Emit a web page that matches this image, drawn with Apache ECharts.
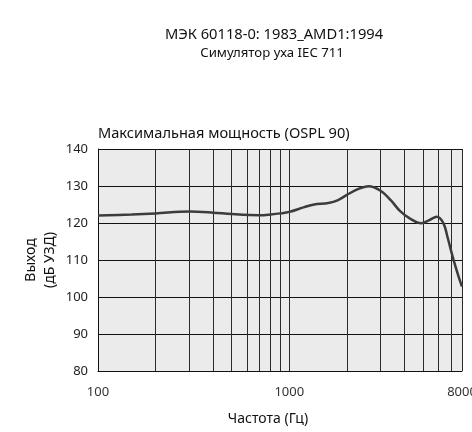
<!DOCTYPE html>
<html>
<head>
<meta charset="utf-8">
<script src="https://cdn.jsdelivr.net/npm/echarts@6/dist/echarts.min.js"></script>
<style>
  html, body { margin: 0; padding: 0; background: #fff; }
  #chart { width: 472px; height: 432px; }
</style>
</head>
<body>
<div id="chart"></div>
<script>
// частота, Гц
const freqs = [100, 150, 200, 300, 400, 500, 700, 800, 900, 1000, 1200, 1350, 1600, 1800, 2000,
  2300, 2600, 3000, 3400, 3800, 4300, 4900, 5400, 5900, 6400, 6750, 7200, 7650, 8000];
// выход, дБ УЗД
const ospl90 = [122.0, 122.3, 122.6, 123.1, 122.8, 122.4, 122.1, 122.3, 122.6, 123.0, 124.3, 125.0, 125.4, 126.2, 127.6,
  129.2, 129.9, 128.7, 126.1, 123.2, 121.1, 119.9, 120.8, 121.7, 119.9, 115.8, 110.3, 105.8, 102.8];
// вертикальная сетка
const gridFreqs = [200, 300, 400, 500, 600, 700, 800, 900, 1000, 2000, 3000, 4000, 5000, 6000, 7000, 8000];

const font = "'Noto Sans', sans-serif";
const chart = echarts.init(document.getElementById("chart"));

const option = {
  animation: false,
  textStyle: { fontFamily: font },
  title: [
    {
      text: "МЭК 60118-0: 1983_AMD1:1994",
      left: 274, top: 27, textAlign: "center", padding: 0,
      textStyle: { fontSize: 14.7, fontWeight: "normal", color: "#111", fontFamily: font }
    },
    {
      text: "Симулятор уха IEC 711",
      left: 272, top: 47, textAlign: "center", padding: 0,
      textStyle: { fontSize: 13.2, fontWeight: "normal", color: "#111", fontFamily: font }
    },
    {
      text: "Максимальная мощность (OSPL 90)",
      left: 98, top: 126, padding: 0,
      textStyle: { fontSize: 14.6, fontWeight: "normal", color: "#111", fontFamily: font }
    }
  ],
  grid: {
    left: 98, right: 10, top: 149, bottom: 61,
    outerBoundsMode: "none",
    containLabel: false,
    show: true, backgroundColor: "#ebebeb", borderWidth: 0
  },
  xAxis: {
    type: "log",
    logBase: 10,
    min: 100,
    max: 8000,
    name: "Частота (Гц)",
    nameLocation: "middle",
    nameGap: 41,
    nameMoveOverlap: false,
    nameTextStyle: { fontSize: 14, color: "#111", fontFamily: font, padding: [0, 24, 0, 0] },
    axisLine: { show: true, lineStyle: { color: "#111", width: 1 } },
    axisTick: { show: false },
    splitLine: { show: false },
    axisLabel: {
      margin: 15, fontSize: 13, color: "#333", fontFamily: font,
      showMaxLabel: true,
      formatter: (v) => String(Math.round(v))
    }
  },
  yAxis: {
    type: "value",
    min: 80,
    max: 140,
    interval: 10,
    name: "Выход\n(дБ УЗД)",
    nameLocation: "middle",
    nameRotate: 90,
    nameGap: 38,
    nameMoveOverlap: false,
    nameTextStyle: { fontSize: 14, lineHeight: 19, color: "#111", fontFamily: font },
    axisLine: { show: true, lineStyle: { color: "#111", width: 1 } },
    axisTick: { show: false },
    splitLine: { show: true, lineStyle: { color: "#111", width: 1 } },
    axisLabel: { margin: 10, fontSize: 13, color: "#222", fontFamily: font }
  },
  series: [
    {
      name: "OSPL 90",
      type: "line",
      data: freqs.map((f, i) => [f, ospl90[i]]),
      smooth: 0.35,
      showSymbol: false,
      lineStyle: { color: "#3c3c3c", width: 2.5 },
      z: 5,
      markLine: {
        silent: true,
        symbol: "none",
        label: { show: false },
        lineStyle: { color: "#2a2a2a", width: 1, type: "solid" },
        data: gridFreqs.map((f) => ({ xAxis: f }))
      }
    }
  ]
};

chart.setOption(option);
</script>
</body>
</html>
